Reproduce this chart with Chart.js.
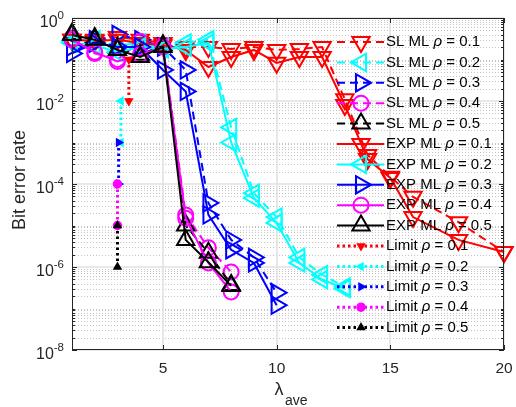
<!DOCTYPE html>
<html>
<head>
<meta charset="utf-8">
<script src="https://cdn.jsdelivr.net/npm/chart.js@4.4.1/dist/chart.umd.min.js"></script>
<style>
  body { margin: 0; background: #fff; }
  #myChart { display: block; }
</style>
</head>
<body>
<canvas id="myChart" width="516" height="407"></canvas>
<script>
// valores (lambda_ave x taxa de erro de bit)
const lambda01 = [1, 2, 3, 4, 5, 6, 7, 8, 9, 10, 11, 12, 13, 14, 15, 16, 18, 20];
const berSL01 = [0.3, 0.3, 0.35, 0.3, 0.25, 0.2, 0.2, 0.18, 0.2, 0.17, 0.18, 0.2, 0.011, 5e-4, 1.5e-4, 4.9e-5, 1.2e-5, 2.3e-6];
const berEXP01 = [0.3, 0.28, 0.3, 0.25, 0.22, 0.17, 0.066, 0.115, 0.17, 0.083, 0.115, 0.115, 0.008, 4e-4, 1.4e-4, 1.6e-5, 4.5e-6, 2.3e-6];

const lambda02 = [1, 2, 3, 4, 5, 6, 7, 8, 9, 10, 11, 12, 13];
const berSL02 = [0.28, 0.3, 0.22, 0.25, 0.2, 0.25, 0.3, 2.3e-3, 6e-5, 1.6e-5, 1.7e-6, 6.5e-7, 3.3e-7];
const berEXP02 = [0.25, 0.22, 0.15, 0.2, 0.18, 0.2, 0.25, 1e-3, 4.6e-5, 1.15e-5, 1.25e-6, 5e-7, 3e-7];

const lambda03 = [1, 2, 3, 4, 5, 6, 7, 8, 9, 10];
const berSL03 = [0.2, 0.3, 0.4, 0.3, 0.2, 0.056, 3.5e-5, 4.5e-6, 1.7e-6, 2.4e-7];
const berEXP03 = [0.14, 0.25, 0.2, 0.2, 0.056, 0.017, 1.8e-5, 2.6e-6, 1.25e-6, 1.2e-7];

const lambda04 = [1, 2, 3, 4, 5, 6, 7, 8];
const berSL04 = [0.33, 0.14, 0.1, 0.27, 0.22, 1.8e-5, 2.9e-6, 7.6e-7];
const berEXP04 = [0.3, 0.15, 0.09, 0.13, 0.2, 1.5e-5, 1.25e-6, 2.5e-7];

const lambda05 = [1, 2, 3, 4, 5, 6, 7, 8];
const berSL05 = [0.42, 0.33, 0.19, 0.13, 0.22, 1e-5, 2.2e-6, 3.7e-7];
const berEXP05 = [0.39, 0.3, 0.17, 0.115, 0.2, 4.5e-6, 1.3e-6, 3.5e-7];

// limites (segmentos verticais)
const lambdaLim = [[3.5, 3.5], [3.15, 3.15], [3.05, 3.05], [3, 3], [3, 3]];
const berLim = [[0.1, 0.01], [0.01, 1e-3], [1e-3, 1e-4], [1e-4, 1e-5], [1e-5, 1e-6]];

const rhos = ['0.1', '0.2', '0.3', '0.4', '0.5'];
const cores = ['#ff0000', '#00ffff', '#0000ff', '#ff00ff', '#000000'];
// marcador de cada rho: estilo e rotacao (v, <, >, o, ^)
const marcadores = [['triangle', 180], ['triangle', 270], ['triangle', 90], ['circle', 0], ['triangle', 0]];

const lambdas = [lambda01, lambda02, lambda03, lambda04, lambda05];
const bersSL = [berSL01, berSL02, berSL03, berSL04, berSL05];
const bersEXP = [berEXP01, berEXP02, berEXP03, berEXP04, berEXP05];

const fonte = '"Liberation Sans", Arial, Helvetica, sans-serif';

function criarSerie(prefixo, i, xs, ys, tipo) {
    let pontos = [];
    for (let k = 0; k < xs.length; k++) {
        pontos.push({ x: xs[k], y: ys[k] });
    }
    let limite = tipo == 'lim';
    let estilo = marcadores[i][0];
    return {
        label: prefixo + '|' + rhos[i],
        data: pontos,
        borderColor: cores[i],
        backgroundColor: limite ? cores[i] : 'rgba(0,0,0,0)',
        borderWidth: limite ? 3 : 2,
        borderDash: tipo == 'sl' ? [8, 5] : (limite ? [2.5, 3] : []),
        pointStyle: estilo,
        rotation: marcadores[i][1],
        pointRadius: limite ? 4 : (estilo == 'circle' ? 7.5 : 10),
        pointBorderWidth: limite ? 1.5 : 2,
        pointBackgroundColor: limite ? cores[i] : 'rgba(0,0,0,0)',
        pointBorderColor: cores[i],
        tension: 0,
        fill: false,
        clip: false
    };
}

let series = [];
for (let i = 0; i < 5; i++) series.push(criarSerie('SL ML', i, lambdas[i], bersSL[i], 'sl'));
for (let i = 0; i < 5; i++) series.push(criarSerie('EXP ML', i, lambdas[i], bersEXP[i], 'exp'));
for (let i = 0; i < 5; i++) series.push(criarSerie('Limit', i, lambdaLim[i], berLim[i], 'lim'));
// ordem de desenho igual ao matlab: o ultimo fica por cima
series.forEach((s, i) => s.order = 100 - i);

function linha(ctx, x1, y1, x2, y2) {
    ctx.beginPath();
    ctx.moveTo(x1, y1);
    ctx.lineTo(x2, y2);
    ctx.stroke();
}

function desenharMarcador(ctx, estilo, rot, r, x, y) {
    ctx.beginPath();
    if (estilo == 'circle') {
        ctx.arc(x, y, r, 0, Math.PI * 2);
    } else {
        let rad = rot * Math.PI / 180;
        for (let k = 0; k < 3; k++) {
            let px = x + Math.sin(rad) * r, py = y - Math.cos(rad) * r;
            if (k == 0) ctx.moveTo(px, py); else ctx.lineTo(px, py);
            rad += Math.PI * 2 / 3;
        }
        ctx.closePath();
    }
}

const gradePlugin = {
    id: 'grade',
    beforeDatasetsDraw(chart) {
        const ctx = chart.ctx, a = chart.chartArea, x = chart.scales.x, y = chart.scales.y;
        ctx.save();
        // grade menor pontilhada
        ctx.strokeStyle = '#c4c4c4';
        ctx.lineWidth = 1;
        ctx.setLineDash([1, 2]);
        for (let e = -8; e < 0; e++) {
            for (let m = 1; m < 10; m++) {
                if (m == 1 && e % 2 == 0) continue;
                let py = Math.round(y.getPixelForValue(m * Math.pow(10, e))) + 0.5;
                linha(ctx, a.left, py, a.right, py);
            }
        }
        // grade maior
        ctx.setLineDash([]);
        ctx.strokeStyle = '#e0e0e0';
        ctx.lineWidth = 1.5;
        for (let e = 0; e >= -8; e -= 2) {
            let py = Math.round(y.getPixelForValue(Math.pow(10, e)));
            linha(ctx, a.left, py, a.right, py);
        }
        [5, 10, 15, 20].forEach(v => {
            let px = Math.round(x.getPixelForValue(v));
            linha(ctx, px, a.top, px, a.bottom);
        });
        ctx.restore();
    },
    afterDraw(chart) {
        const ctx = chart.ctx, a = chart.chartArea, x = chart.scales.x, y = chart.scales.y;
        ctx.save();
        ctx.strokeStyle = '#262626';
        ctx.fillStyle = '#262626';
        ctx.lineWidth = 1;
        ctx.setLineDash([]);
        ctx.strokeRect(a.left + 0.5, a.top + 0.5, a.right - a.left - 1, a.bottom - a.top - 1);

        // marcas dos eixos
        for (let e = -8; e <= 0; e++) {
            for (let m = 1; m < 10; m++) {
                if (e == 0 && m > 1) continue;
                let py = Math.round(y.getPixelForValue(m * Math.pow(10, e))) + 0.5;
                let t = (m == 1 && e % 2 == 0) ? 5 : 3;
                linha(ctx, a.left, py, a.left + t, py);
                linha(ctx, a.right, py, a.right - t, py);
            }
        }
        [5, 10, 15, 20].forEach(v => {
            let px = Math.round(x.getPixelForValue(v)) + 0.5;
            linha(ctx, px, a.bottom, px, a.bottom - 5);
            linha(ctx, px, a.top, px, a.top + 5);
        });

        // rotulos do eixo x
        ctx.font = '15.5px ' + fonte;
        ctx.textAlign = 'center';
        ctx.textBaseline = 'middle';
        [5, 10, 15, 20].forEach(v => {
            ctx.fillText(String(v), x.getPixelForValue(v), a.bottom + 19);
        });

        // rotulos do eixo y (10 com expoente)
        for (let e = 0; e >= -8; e -= 2) {
            let py = y.getPixelForValue(Math.pow(10, e));
            let expo = e == 0 ? '0' : '-' + (-e);
            ctx.textAlign = 'right';
            ctx.font = '11.5px ' + fonte;
            let w = ctx.measureText(expo).width;
            ctx.fillText(expo, a.left - 8, py - 2);
            ctx.font = '16px ' + fonte;
            ctx.fillText('10', a.left - 8 - w, py + 5);
        }

        // titulos dos eixos
        ctx.font = '18px ' + fonte;
        ctx.textAlign = 'center';
        ctx.save();
        ctx.translate(20, 180);
        ctx.rotate(-Math.PI / 2);
        ctx.fillText('Bit error rate', 0, 0);
        ctx.restore();
        ctx.font = '18px ' + fonte;
        ctx.fillText('\u03bb', 279, 390);
        ctx.textAlign = 'left';
        ctx.font = '14px ' + fonte;
        ctx.fillText('ave', 285, 401);

        // legenda (transparente, dentro dos eixos)
        chart.data.datasets.forEach((ds, i) => {
            let yy = 42 + i * 20.4;
            let partes = ds.label.split('|');
            ctx.strokeStyle = ds.borderColor;
            ctx.lineWidth = ds.borderWidth;
            ctx.setLineDash(ds.borderDash);
            linha(ctx, 337, yy, 384, yy);
            ctx.setLineDash([]);
            ctx.lineWidth = ds.pointBorderWidth;
            desenharMarcador(ctx, ds.pointStyle, ds.rotation, ds.pointRadius, 361, yy);
            ctx.fillStyle = ds.pointBackgroundColor;
            ctx.fill();
            ctx.stroke();

            ctx.fillStyle = '#000';
            ctx.textAlign = 'left';
            ctx.font = '15px ' + fonte;
            let tx = 386;
            let t1 = partes[0] + ' ';
            ctx.fillText(t1, tx, yy);
            tx += ctx.measureText(t1).width;
            ctx.font = 'italic 15px ' + fonte;
            ctx.fillText('\u03c1', tx, yy);
            tx += ctx.measureText('\u03c1').width;
            ctx.font = '15px ' + fonte;
            ctx.fillText(' = ' + partes[1], tx, yy);
        });
        ctx.restore();
    }
};

const config = {
    type: 'line',
    data: { datasets: series },
    options: {
        responsive: false,
        animation: false,
        layout: { padding: { left: 72, right: 8, top: 18, bottom: 57 } },
        plugins: { legend: { display: false }, tooltip: { enabled: false } },
        scales: {
            x: { type: 'linear', min: 1, max: 20, display: false },
            y: { type: 'logarithmic', min: 1e-8, max: 1, display: false }
        }
    },
    plugins: [gradePlugin]
};

let myChart = new Chart(document.getElementById('myChart'), config);
</script>
</body>
</html>
